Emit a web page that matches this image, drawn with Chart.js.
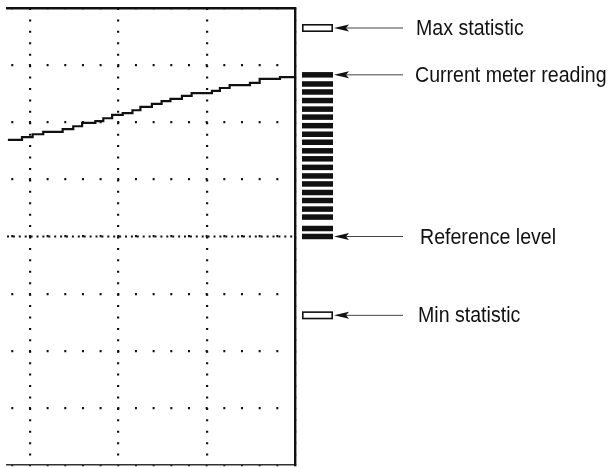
<!DOCTYPE html>
<html>
<head>
<meta charset="utf-8">
<script src="https://cdn.jsdelivr.net/npm/chart.js@4/dist/chart.umd.min.js"></script>
<style>
html,body{margin:0;padding:0;background:#fff;}
#wrap{position:relative;width:609px;height:468px;overflow:hidden;}
canvas{position:absolute;left:0;top:0;}
.lbl{position:absolute;font-family:"Liberation Sans",Arial,Helvetica,sans-serif;font-size:22px;color:#111;white-space:nowrap;transform:scaleX(0.89);transform-origin:0 50%;line-height:22px;}
</style>
</head>
<body>
<div id="wrap">
<canvas id="c" width="609" height="468"></canvas>
</div>
<script>
// ---- data (graticule divisions; reference level = 0) ----
const traceX = [-0.25,-0.09,0.03,0.15,0.37,0.49,0.59,0.74,0.83,0.93,1.05,1.16,1.25,1.38,1.49,1.59,1.72,1.83,2.06,2.15,2.26,2.49,2.60,2.83,3.00];
const traceY = [1.69,1.74,1.79,1.83,1.88,1.93,1.99,2.02,2.07,2.13,2.16,2.21,2.27,2.32,2.37,2.41,2.46,2.51,2.55,2.60,2.65,2.69,2.76,2.79,2.79];
const referenceLevel = 0;
const currentReading = 2.83;
const maxStatistic = 3.65;
const minStatistic = -1.38;
const meterSegments = [2.83,2.67,2.53,2.38,2.23,2.09,1.94,1.79,1.65,1.50,1.36,1.21,1.06,0.92,0.77,0.63,0.48,0.34,0.14,0.00];
const xTicks = [0,1,2,3];
const yTicks = [-4,-3,-2,-1,0,1,2,3,4];
const labelTexts = ['Max statistic','Current meter reading','Reference level','Min statistic'];
const labelValues = [maxStatistic,currentReading,referenceLevel,minStatistic];

const X_MIN = -0.26, X_MAX = 3, Y_MIN = -4, Y_MAX = 4;
const INK = '#111';

const meterPlugin = {
  id: 'meter',
  afterDraw(chart) {
    const {ctx, scales: {y}, chartArea} = chart;
    const left = chartArea.right + 7, w = 31;
    ctx.save();
    ctx.fillStyle = INK;
    meterSegments.forEach(v => {
      const py = y.getPixelForValue(v);
      ctx.fillRect(left, py - 2.75, w, 5.5);
    });
    ctx.strokeStyle = INK;
    ctx.lineWidth = 1.6;
    [maxStatistic, minStatistic].forEach(v => {
      const py = y.getPixelForValue(v);
      ctx.strokeRect(left + 0.8, py - 3.2, w - 1.6, 6.4);
    });
    labelValues.forEach(v => {
      const py = y.getPixelForValue(v);
      const tip = left + w + 1;
      ctx.beginPath();
      ctx.moveTo(tip, py);
      ctx.lineTo(tip + 15, py - 3.5);
      ctx.lineTo(tip + 12, py);
      ctx.lineTo(tip + 15, py + 3.5);
      ctx.closePath();
      ctx.fill();
      ctx.lineWidth = 1;
      ctx.strokeStyle = '#444';
      ctx.beginPath();
      ctx.moveTo(tip + 12, py);
      ctx.lineTo(403, py);
      ctx.stroke();
    });
    ctx.restore();
  }
};

const chart = new Chart(document.getElementById('c'), {
  type: 'line',
  data: {
    datasets: [
      {
        label: 'Meter trace',
        data: traceX.map((x, i) => ({x, y: traceY[i]})),
        stepped: 'before',
        borderColor: INK,
        borderWidth: 2.2,
        pointRadius: 0,
        fill: false
      },
      {
        label: 'Reference level',
        data: [{x: X_MIN, y: referenceLevel}, {x: X_MAX, y: referenceLevel}],
        borderColor: INK,
        borderWidth: 2.2,
        borderDash: [2, 3.9],
        pointRadius: 0,
        fill: false
      }
    ]
  },
  options: {
    responsive: false,
    animation: false,
    devicePixelRatio: 1,
    layout: {padding: {left: 7, top: 8, right: 314, bottom: 3}},
    plugins: {legend: {display: false}, tooltip: {enabled: false}},
    scales: {
      x: {
        type: 'linear', position: 'bottom', min: X_MIN, max: X_MAX,
        afterBuildTicks: s => { s.ticks = xTicks.map(v => ({value: v})); },
        ticks: {display: false},
        grid: {color: INK, lineWidth: 2.2, drawTicks: false},
        border: {display: true, color: '#333', width: 1.5, dash: [2, 9.425], dashOffset: 0}
      },
      x2: {
        type: 'linear', position: 'top', min: X_MIN, max: X_MAX,
        ticks: {display: false},
        grid: {display: false, drawTicks: false},
        border: {display: true, color: INK, width: 2.4}
      },
      y: {
        type: 'linear', position: 'right', min: Y_MIN, max: Y_MAX,
        afterBuildTicks: s => { s.ticks = yTicks.map(v => ({value: v})); },
        ticks: {display: false},
        grid: {color: INK, lineWidth: 2.2, drawTicks: false},
        border: {display: true, color: INK, width: 2.4, dash: [2, 15.67], dashOffset: 13.4}
      }
    }
  },
  plugins: [meterPlugin]
});

// annotation labels as real text
const wrap = document.getElementById('wrap');
const labelLefts = [416, 415, 420, 418];
labelTexts.forEach((t, i) => {
  const d = document.createElement('div');
  d.className = 'lbl';
  d.textContent = t;
  const py = chart.scales.y.getPixelForValue(labelValues[i]);
  d.style.left = labelLefts[i] + 'px';
  d.style.top = (py - 11) + 'px';
  wrap.appendChild(d);
});
</script>
</body>
</html>
